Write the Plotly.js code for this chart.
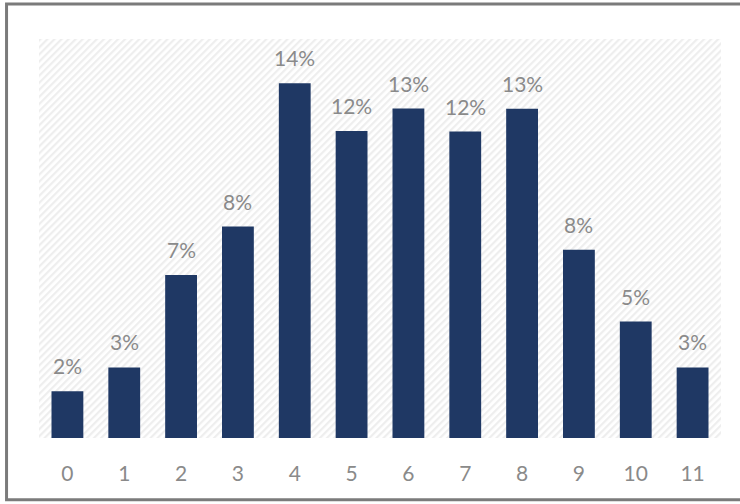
<!DOCTYPE html>
<html>
<head>
<meta charset="utf-8">
<script src="https://cdn.plot.ly/plotly-3.0.1.min.js"></script>
<style>
  html, body { margin: 0; padding: 0; background: #ffffff; }
  #chart { width: 740px; height: 504px; }
</style>
</head>
<body>
<div id="chart"></div>
<script>
// ---- data ----
const categories = ["0", "1", "2", "3", "4", "5", "6", "7", "8", "9", "10", "11"];
const shares = [0.0187, 0.0283, 0.0654, 0.0848, 0.1423, 0.1231, 0.1321, 0.1229, 0.1320, 0.0755, 0.0467, 0.0283];
const valueLabels = ["2%", "3%", "7%", "8%", "14%", "12%", "13%", "12%", "13%", "8%", "5%", "3%"];

// ---- layout constants ----
const W = 740, H = 504;
const M = { l: 38.5, r: 18.5, t: 39, b: 65.7 };
const plotW = W - M.l - M.r, plotH = H - M.t - M.b;
function px2paperX(px) { return (px - M.l) / plotW; }
function px2paperY(py) { return (H - M.b - py) / plotH; }

const hatchSvg =
  '<svg xmlns="http://www.w3.org/2000/svg" width="' + Math.round(plotW) + '" height="' + Math.round(plotH) + '" preserveAspectRatio="none">' +
  '<defs><pattern id="p" width="5" height="5" patternUnits="userSpaceOnUse" patternTransform="rotate(45)">' +
  '<rect width="5" height="5" fill="#ffffff"/><rect width="2.2" height="5" fill="#eeeeee"/></pattern></defs>' +
  '<rect width="100%" height="100%" fill="url(#p)"/></svg>';

const trace = {
  type: "bar",
  x: categories,
  y: shares,
  marker: { color: "#1f3864" },
  hoverinfo: "skip"
};

const labelFont = { family: "Lato, 'Open Sans', sans-serif", size: 21, color: "#8a8a8a" };

const annotations = categories.map((c, i) => ({
  x: c, y: shares[i], xref: "x", yref: "y",
  text: valueLabels[i], showarrow: false,
  yanchor: "bottom", yshift: 11,
  font: labelFont
}));

const layout = {
  width: W, height: H,
  margin: M,
  paper_bgcolor: "#ffffff",
  plot_bgcolor: "rgba(0,0,0,0)",
  showlegend: false,
  bargap: 0.44,
  xaxis: {
    type: "category",
    range: [-0.5, 11.5],
    showgrid: false, zeroline: false,
    showline: false,
    ticks: "",
    ticklabelstandoff: 21,
    tickfont: labelFont,
    fixedrange: true
  },
  yaxis: {
    range: [0, 0.16],
    visible: false,
    fixedrange: true
  },
  images: [{
    source: "data:image/svg+xml;utf8," + encodeURIComponent(hatchSvg),
    xref: "paper", yref: "paper",
    x: 0, y: 1, sizex: 1, sizey: 1,
    xanchor: "left", yanchor: "top",
    sizing: "stretch", layer: "below"
  }],
  shapes: [{
    type: "rect", xref: "paper", yref: "paper",
    x0: px2paperX(6), x1: px2paperX(760),
    y0: px2paperY(500), y1: px2paperY(4),
    line: { color: "#7b7b7b", width: 3 },
    fillcolor: "rgba(0,0,0,0)",
    layer: "above"
  }],
  annotations: annotations
};

Plotly.newPlot("chart", [trace], layout, { displayModeBar: false, staticPlot: true });
</script>
</body>
</html>
